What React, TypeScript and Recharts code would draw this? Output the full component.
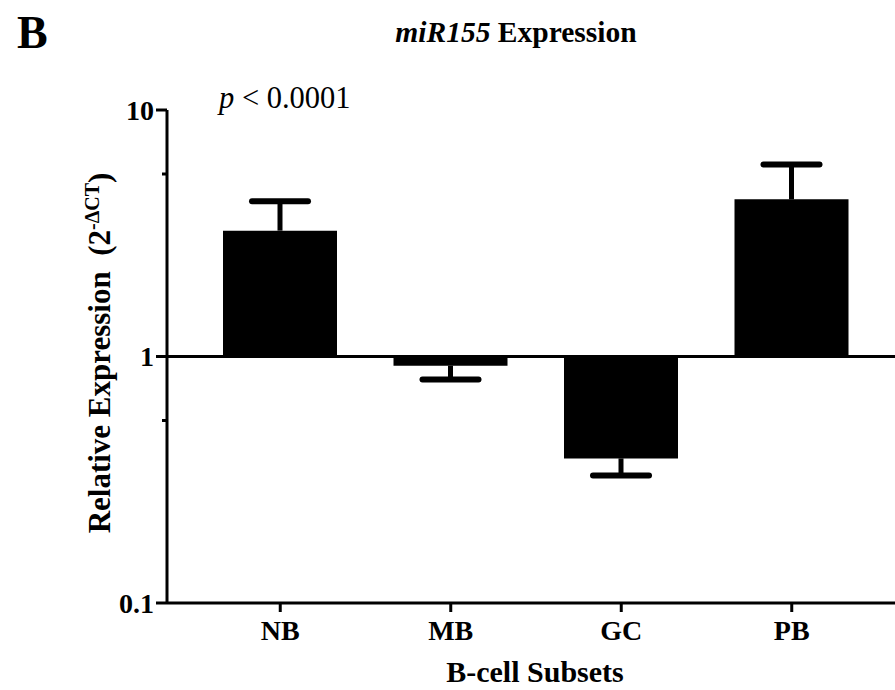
import { BarChart, Bar, XAxis, YAxis, ReferenceLine } from 'recharts';

// miR155 relative expression per B-cell subset (log scale, baseline at 1)
const subsets = ['NB', 'MB', 'GC', 'PB'];
const expression = [3.24, 0.918, 0.386, 4.34];
const errorEnd = [4.26, 0.807, 0.329, 6.01];
const majorTicks = [0.1, 1, 10];
const minorTicks = [0.55, 5.5];

const data = subsets.map((name, i) => ({
  name,
  bar: [1, expression[i]],
  err: [expression[i], errorEnd[i]],
}));

const FONT = '"Liberation Serif", "Times New Roman", serif';

function YTick(props: any) {
  const { x, y, payload } = props;
  const major = majorTicks.includes(payload.value);
  return (
    <g>
      <line x1={x - (major ? 11 : 5)} x2={x} y1={y} y2={y} stroke="#000" strokeWidth={3} />
      {major && (
        <text
          x={x - 13}
          y={y}
          dy="0.35em"
          textAnchor="end"
          fontFamily={FONT}
          fontWeight="bold"
          fontSize={28}
          fill="#000"
        >
          {payload.value}
        </text>
      )}
    </g>
  );
}

function XTick(props: any) {
  const { x, y, payload } = props;
  return (
    <g>
      <line x1={x} x2={x} y1={y} y2={y + 9} stroke="#000" strokeWidth={3} />
      <text
        x={x}
        y={y + 37}
        textAnchor="middle"
        fontFamily={FONT}
        fontWeight="bold"
        fontSize={28}
        fill="#000"
      >
        {payload.value}
      </text>
    </g>
  );
}

// one-sided error bar: stem from the bar end to the cap
function ErrorShape(props: any) {
  const { x, y, width, height, payload } = props;
  const cx = x + width / 2;
  const top = Math.min(y, y + height);
  const bottom = Math.max(y, y + height);
  const up = payload.err[1] > payload.err[0];
  const capY = up ? top : bottom;
  return (
    <g stroke="#000">
      <line x1={cx} x2={cx} y1={top} y2={bottom} strokeWidth={5} />
      <line x1={cx - 28} x2={cx + 28} y1={capY} y2={capY} strokeWidth={6} strokeLinecap="round" />
    </g>
  );
}

export default function App() {
  return (
    <div style={{ position: 'absolute', left: 0, top: 0, width: 895, height: 690, background: '#fff' }}>
      <BarChart
        width={895}
        height={690}
        data={data}
        margin={{ top: 110, right: 0, bottom: 0, left: 67 }}
      >
        <XAxis
          dataKey="name"
          height={87}
          padding={{ left: 28, right: 18 }}
          axisLine={{ stroke: '#000', strokeWidth: 3 }}
          tickLine={false}
          tickSize={0}
          tickMargin={0}
          tick={<XTick />}
          interval={0}
        />
        <XAxis xAxisId="err" dataKey="name" hide padding={{ left: 28, right: 18 }} />
        <YAxis
          type="number"
          scale="log"
          domain={[0.1, 10]}
          allowDataOverflow
          ticks={[...majorTicks, ...minorTicks]}
          interval={0}
          width={100}
          axisLine={{ stroke: '#000', strokeWidth: 3 }}
          tickLine={false}
          tickSize={0}
          tickMargin={0}
          tick={<YTick />}
        />
        <Bar dataKey="bar" fill="#000" barSize={114} isAnimationActive={false} />
        <Bar
          dataKey="err"
          xAxisId="err"
          barSize={114}
          shape={<ErrorShape />}
          isAnimationActive={false}
        />
        <ReferenceLine y={1} stroke="#000" strokeWidth={3} />
      </BarChart>
      <svg
        width={895}
        height={690}
        style={{ position: 'absolute', left: 0, top: 0, pointerEvents: 'none' }}
        fontFamily={FONT}
      >
        <text x={17} y={48} fontSize={46} fontWeight="bold" fill="#000">B</text>
        <text x={516} y={42} fontSize={29.5} fontWeight="bold" textAnchor="middle" fill="#000">
          <tspan fontStyle="italic">miR155</tspan> Expression
        </text>
        <text x={219} y={108} fontSize={30.5} fill="#000" style={{ whiteSpace: 'pre' }}>
          <tspan fontStyle="italic">p</tspan> {'< 0.0001'}
        </text>
        <text
          transform="translate(110,353) rotate(-90)"
          textAnchor="middle"
          fontSize={31}
          fontWeight="bold"
          fill="#000"
          style={{ whiteSpace: 'pre' }}
        >
          {'Relative Expression  (2'}
          <tspan fontSize={20} dy={-11}>-ΔCT</tspan>
          <tspan dy={11}>)</tspan>
        </text>
        <text x={535} y={682} fontSize={30} fontWeight="bold" textAnchor="middle" fill="#000">
          B-cell Subsets
        </text>
      </svg>
    </div>
  );
}
